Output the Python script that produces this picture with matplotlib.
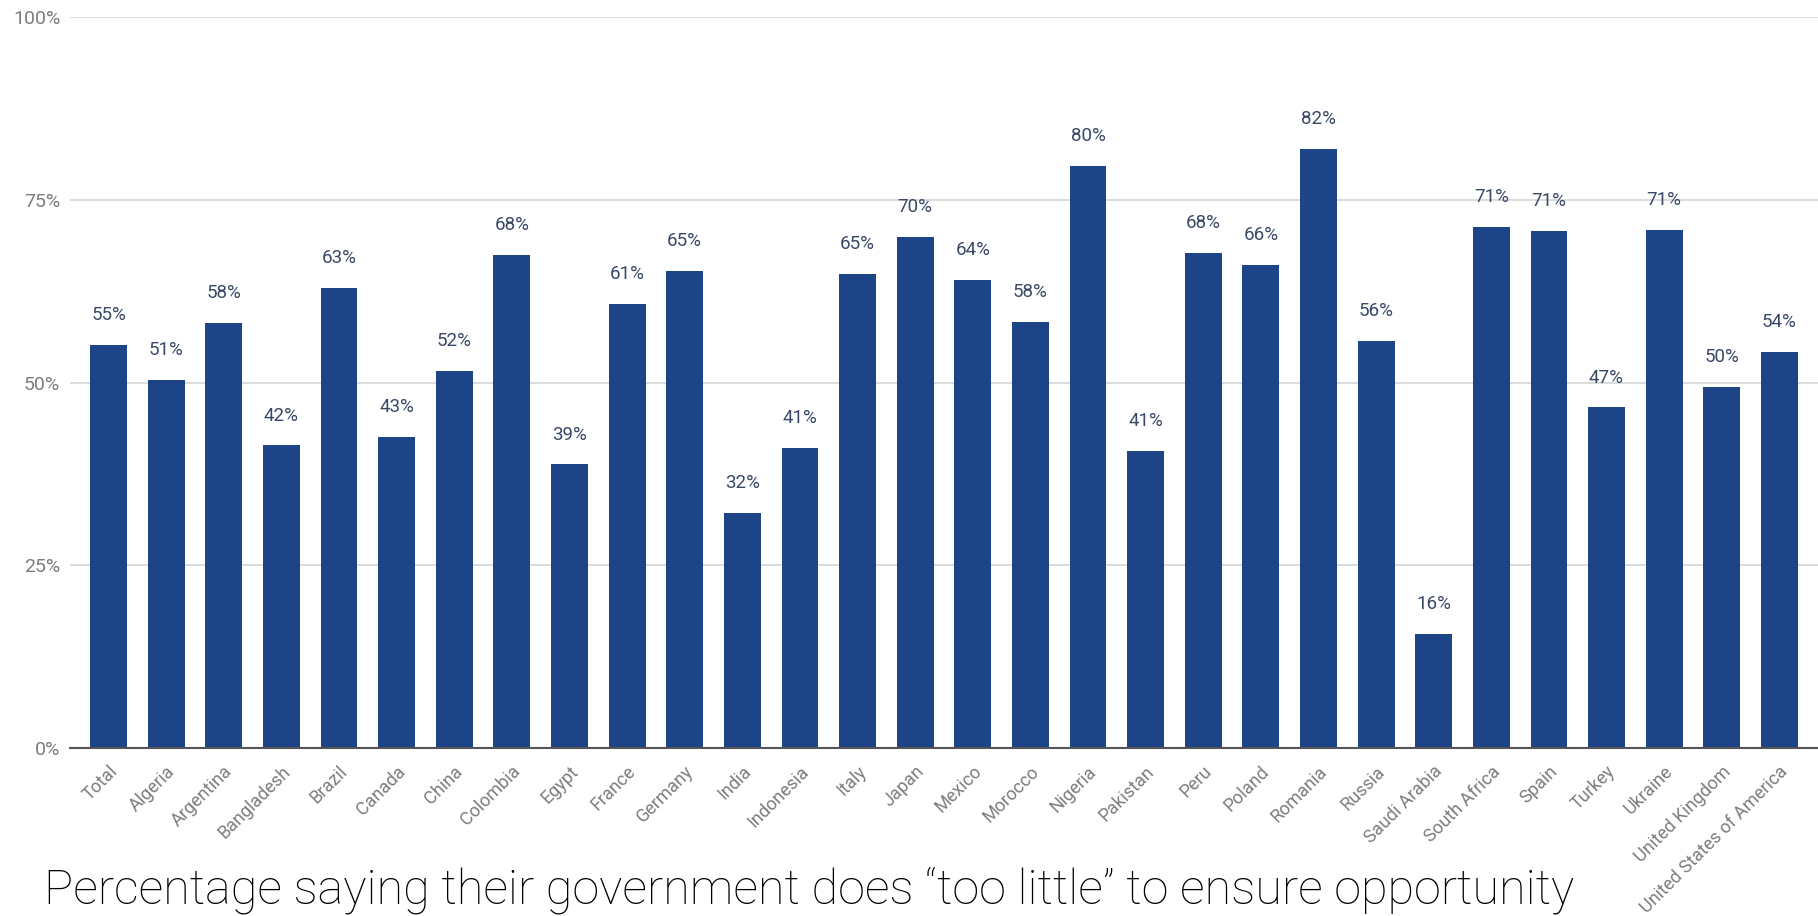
import matplotlib
matplotlib.use("Agg")
import matplotlib.pyplot as plt
import matplotlib.transforms as mtransforms
import numpy as np

# datos
countries = ["Total", "Algeria", "Argentina", "Bangladesh", "Brazil", "Canada", "China",
             "Colombia", "Egypt", "France", "Germany", "India", "Indonesia", "Italy", "Japan",
             "Mexico", "Morocco", "Nigeria", "Pakistan", "Peru", "Poland", "Romania", "Russia",
             "Saudi Arabia", "South Africa", "Spain", "Turkey", "Ukraine", "United Kingdom",
             "United States of America"]
values = [55.1, 50.3, 58.1, 41.4, 62.9, 42.5, 51.6, 67.5, 38.8, 60.8, 65.3, 32.2, 41.0, 64.9,
          69.9, 64.0, 58.3, 79.6, 40.6, 67.7, 66.1, 81.9, 55.7, 15.6, 71.3, 70.7, 46.6, 70.9,
          49.4, 54.2]
value_labels = ["55%", "51%", "58%", "42%", "63%", "43%", "52%", "68%", "39%", "61%", "65%",
                "32%", "41%", "65%", "70%", "64%", "58%", "80%", "41%", "68%", "66%", "82%",
                "56%", "16%", "71%", "71%", "47%", "71%", "50%", "54%"]
yticks = [0, 25, 50, 75, 100]
caption = "Percentage saying their government does \u201ctoo little\u201d to ensure opportunity"

bar_color = "#1d4486"
label_color = "#3a4868"
tick_color = "#7d7d7d"

fig = plt.figure(figsize=(18.18, 9.16), dpi=100)
ax = fig.add_axes([70 / 1818, 168 / 916, 1748 / 1818, 731 / 916])

x = np.arange(len(countries))
ax.bar(x, values, width=0.64, color=bar_color, zorder=3)

# etiquetas de valor encima de cada barra
for xi, v, lab in zip(x, values, value_labels):
    ax.annotate(lab, (xi, v), xytext=(0, 15), textcoords="offset points",
                ha="center", va="bottom", fontsize=13.5, color=label_color,
                family="Roboto")

ax.set_xlim(-0.67, len(countries) - 0.33)
ax.set_ylim(0, 100)
ax.set_yticks(yticks)
ax.set_yticklabels([f"{t}%" for t in yticks], family="Roboto", fontsize=14, color=tick_color)
ax.yaxis.grid(True, color="#d9d9d9", linewidth=1.3, zorder=0)
ax.tick_params(axis="y", length=0, pad=7)

ax.set_xticks(x)
ax.set_xticklabels(countries, rotation=45, ha="right", va="center", rotation_mode="anchor",
                   family="Roboto", fontsize=13, color=tick_color)
ax.tick_params(axis="x", length=0, pad=15)
shift = mtransforms.ScaledTranslation(6 / 100, 0, fig.dpi_scale_trans)
for t in ax.get_xticklabels():
    t.set_transform(t.get_transform() + shift)

for s in ["top", "right", "left"]:
    ax.spines[s].set_visible(False)
ax.spines["bottom"].set_color("#555555")
ax.spines["bottom"].set_linewidth(1.5)
ax.spines["bottom"].set_zorder(4)

fig.text(44 / 1818, 1 - 903 / 916, caption, fontsize=35, family="Roboto",
         fontweight="light", color="black", ha="left", va="baseline")

fig.savefig("out.png", dpi=100)
